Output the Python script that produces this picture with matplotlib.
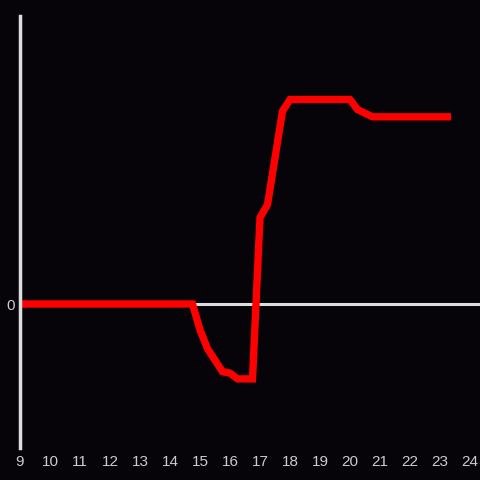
import matplotlib
matplotlib.use('Agg')
import matplotlib.pyplot as plt

plt.rcParams['font.family'] = ['Liberation Sans', 'DejaVu Sans']

# hour of day vs value
hours = [9, 14.75, 15.0, 15.25, 15.75, 16.0, 16.25, 16.75, 17.0, 17.25,
         17.75, 18.0, 20.0, 20.25, 20.75, 23.25]
values = [0, 0, -18, -31, -47, -48, -52, -52, 60, 69,
          134, 142, 142, 135, 130, 130]
xticks = list(range(9, 25))

bg = '#060408'
fg = '#dddddd'

fig = plt.figure(figsize=(4.8, 4.8), dpi=100, facecolor=bg)
ax = fig.add_axes([20 / 480, 32 / 480, 460 / 480, 432 / 480], facecolor=bg)

ax.axhline(0, color=fg, lw=2.2, zorder=1)
ax.plot(hours, values, color='#ff0000', lw=5.3, solid_joinstyle='miter', zorder=2)

ax.set_xlim(9, 24.333)
ax.set_ylim(-100, 200)
ax.set_xticks(xticks)
ax.set_xticklabels([str(h) for h in xticks])
ax.set_yticks([0])
ax.set_yticklabels(['0'])
ax.tick_params(length=0, colors='#cccccc', labelsize=11, pad=4)
ax.tick_params(axis='x', pad=5)

for s in ['top', 'right', 'bottom']:
    ax.spines[s].set_visible(False)
ax.spines['left'].set_color(fg)
ax.spines['left'].set_linewidth(2.5)

fig.savefig('out.png', dpi=100, facecolor=bg)
